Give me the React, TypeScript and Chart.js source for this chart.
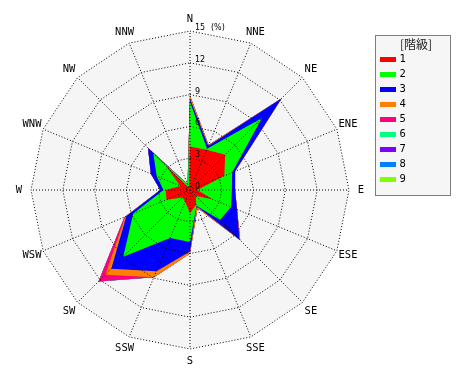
import React, { useEffect, useRef } from "react";
import { Chart, registerables } from "chart.js";

Chart.register(...registerables);

// 16 compass directions, clockwise from north
const directions = ["N", "NNE", "NE", "ENE", "E", "ESE", "SE", "SSE", "S", "SSW", "SW", "WSW", "W", "WNW", "NW", "NNW"];

// frequency (%) per wind-speed class, per direction
const class1 = [4.1, 4.1, 4.7, 3.5, 0.7, 2.3, 0.8, 1.5, 2.2, 1.2, 1.0, 2.4, 2.3, 1.0, 3.2, 0.2];
const class2 = [4.2, 0.1, 4.9, 0.8, 3.25, 1.9, 3.2, 0.1, 2.7, 3.7, 7.9, 3.4, 0.2, 2.4, 1.7, 0.3];
const class3 = [0.3, 0.3, 2.6, 0.3, 0.3, 0.6, 2.6, 0.05, 0.9, 3.4, 1.6, 0.7, 0.3, 0.6, 0.7, 0.0];
const class4 = [0.3, 0.1, 0.0, 0.0, 0.0, 0.0, 0.1, 0.2, 0.2, 0.6, 0.8, 0.1, 0.0, 0.0, 0.0, 0.1];
const class5 = [0.0, 0.0, 0.0, 0.0, 0.0, 0.0, 0.0, 0.0, 0.0, 0.0, 0.9, 0.1, 0.0, 0.0, 0.0, 0.0];
const class6 = [0, 0, 0, 0, 0, 0, 0, 0, 0, 0, 0, 0, 0, 0, 0, 0];
const class7 = [0, 0, 0, 0, 0, 0, 0, 0, 0, 0, 0, 0, 0, 0, 0, 0];
const class8 = [0, 0, 0, 0, 0, 0, 0, 0, 0, 0, 0, 0, 0, 0, 0, 0];
const class9 = [0, 0, 0, 0, 0, 0, 0, 0, 0, 0, 0, 0, 0, 0, 0, 0];

const classLabels = ["1", "2", "3", "4", "5", "6", "7", "8", "9"];
const classColors = ["#ff0000", "#00ff00", "#0000ff", "#ff8000", "#ff0080", "#00ff80", "#8000ff", "#0080ff", "#80ff00"];

const tickValues = [0, 3, 6, 9, 12, 15];
const unitLabel = "(%)";
const legendTitle = "[階級]";

export default function App() {
  const ref = useRef<HTMLCanvasElement>(null);

  useEffect(() => {
    const series = [class1, class2, class3, class4, class5, class6, class7, class8, class9];
    const cumulative: number[][] = [];
    let running = directions.map(() => 0);
    series.forEach((s) => {
      running = running.map((v, i) => v + s[i]);
      cumulative.push(running);
    });

    const datasets = cumulative.map((data, k) => ({
      label: classLabels[k],
      data,
      backgroundColor: classColors[k],
      borderColor: "rgba(0,0,0,0)",
      borderWidth: 0,
      pointRadius: 0,
      pointHoverRadius: 0,
      fill: "origin",
    }));

    const overlay = {
      id: "overlay",
      beforeDatasetsDraw(chart: any) {
        const r = chart.scales.r;
        const ctx = chart.ctx;
        ctx.save();
        ctx.beginPath();
        directions.forEach((_, i) => {
          const p = r.getPointPosition(i, r.drawingArea);
          if (i === 0) ctx.moveTo(p.x, p.y);
          else ctx.lineTo(p.x, p.y);
        });
        ctx.closePath();
        ctx.fillStyle = "#f5f5f5";
        ctx.fill();
        ctx.restore();
      },
      afterDraw(chart: any) {
        const r = chart.scales.r;
        const ctx = chart.ctx;
        ctx.save();
        // direction labels
        ctx.fillStyle = "#000";
        ctx.font = "10.5px 'DejaVu Sans Mono', monospace";
        ctx.textAlign = "center";
        ctx.textBaseline = "middle";
        directions.forEach((d, i) => {
          const p = r.getPointPosition(i, r.drawingArea + 12);
          ctx.fillText(d, p.x, p.y);
        });
        // radial tick labels
        ctx.font = "8px 'DejaVu Sans', sans-serif";
        ctx.textAlign = "left";
        ctx.textBaseline = "alphabetic";
        tickValues.forEach((v) => {
          const y = r.yCenter - r.getDistanceFromCenterForValue(v) - 1;
          ctx.fillText(String(v), r.xCenter + 5, y);
          if (v === tickValues[tickValues.length - 1]) {
            ctx.fillText(unitLabel, r.xCenter + 21, y);
          }
        });
        // legend box
        const bx = 367.5, by = 27.5, bw = 75, bh = 160;
        ctx.fillStyle = "#f6f6f6";
        ctx.fillRect(bx, by, bw, bh);
        ctx.strokeStyle = "#000";
        ctx.lineWidth = 1;
        ctx.setLineDash([1, 1]);
        ctx.strokeRect(bx, by, bw, bh);
        ctx.setLineDash([]);
        ctx.fillStyle = "#222";
        ctx.font = "12px 'Noto Sans CJK JP', sans-serif";
        ctx.textAlign = "center";
        ctx.textBaseline = "middle";
        ctx.fillText(legendTitle, 408, 36);
        ctx.font = "10.5px 'DejaVu Sans Mono', monospace";
        ctx.textAlign = "left";
        classLabels.forEach((lab, k) => {
          const yc = 51.5 + 15 * k;
          ctx.fillStyle = classColors[k];
          ctx.fillRect(372, yc - 2.5, 16, 5);
          ctx.fillStyle = "#000";
          ctx.fillText(lab, 391.5, yc);
        });
        ctx.restore();
      },
    };

    const chart = new Chart(ref.current as HTMLCanvasElement, {
      type: "radar",
      data: { labels: directions, datasets: datasets as any },
      options: {
        animation: false,
        responsive: true,
        maintainAspectRatio: false,
        events: [],
        layout: { padding: { left: 23, top: 23, right: 113, bottom: 23 } },
        plugins: {
          legend: { display: false },
          tooltip: { enabled: false },
          title: { display: false },
        },
        elements: { line: { tension: 0 } },
        scales: {
          r: {
            min: 0,
            max: 15,
            ticks: { display: false, stepSize: 3 },
            pointLabels: { display: false },
            grid: { color: "#000", lineWidth: 1, circular: false, z: 1 } as any,
            border: { dash: [1, 2] } as any,
            angleLines: { display: true, color: "#000", lineWidth: 1, borderDash: [1, 2] },
          },
        },
      } as any,
      plugins: [overlay],
    });
    return () => chart.destroy();
  }, []);

  return (
    <div style={{ position: "relative", width: 454, height: 364 }}>
      <canvas ref={ref} />
    </div>
  );
}
